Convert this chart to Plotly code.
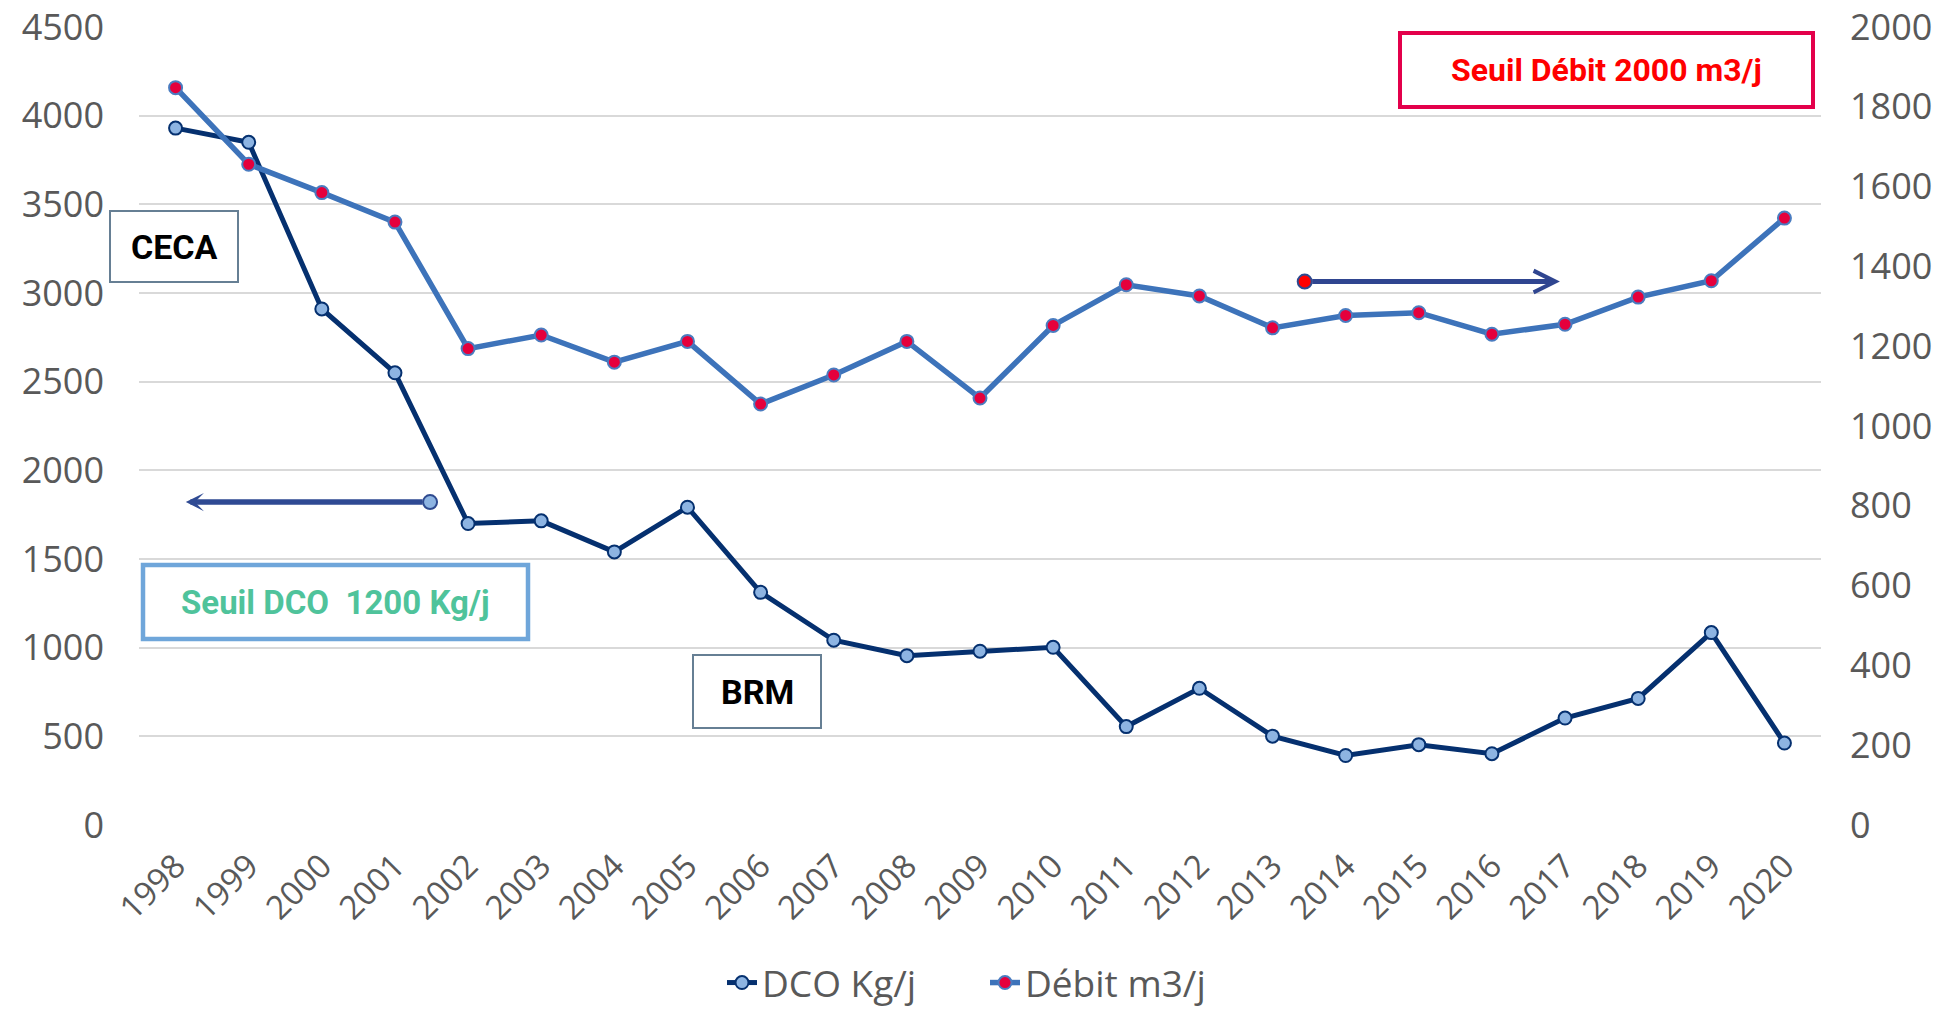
import plotly.graph_objects as go

years = [str(y) for y in range(1998, 2021)]
dco = [3930, 3850, 2910, 2550, 1700, 1715, 1540, 1792, 1312, 1042, 955, 980, 1002,
       555, 771, 501, 392, 453, 402, 603, 714, 1085, 462]
debit = [1848, 1656, 1585, 1511, 1194, 1228, 1160, 1212, 1055, 1128, 1212, 1070, 1252,
         1354, 1326, 1246, 1277, 1284, 1230, 1255, 1323, 1364, 1521]

# arrows (x in category index, y in axis units)
dco_arrow_tail = (3.48, 1821)
dco_arrow_head = (0.14, 1821)
debit_arrow_tail = (15.44, 1362)
debit_arrow_head = (18.93, 1362)

labels = {
    "ceca": "CECA",
    "brm": "BRM",
    "seuil_dco": "Seuil DCO  1200 Kg/j",
    "seuil_debit": "Seuil Débit 2000 m3/j",
}

W, H = 1934, 1010
L, R, T, B = 139, 1821, 27, 825


def px(x):
    return (x - L) / (R - L)


def py(y):
    return (B - y) / (B - T)


x_idx = list(range(len(years)))

fig = go.Figure()
fig.add_trace(go.Scatter(
    x=x_idx, y=dco, name="DCO Kg/j", mode="lines+markers",
    line=dict(color="#05306f", width=5),
    marker=dict(size=13, color="#8db4e2", line=dict(color="#05306f", width=2)),
    yaxis="y"))
fig.add_trace(go.Scatter(
    x=x_idx, y=debit, name="Débit m3/j", mode="lines+markers",
    line=dict(color="#3d73ba", width=5.5),
    marker=dict(size=13, color="#e5003c", line=dict(color="#4a7cc0", width=2)),
    yaxis="y2"))

# arrow tail markers
fig.add_trace(go.Scatter(
    x=[dco_arrow_tail[0]], y=[dco_arrow_tail[1]], mode="markers", showlegend=False,
    marker=dict(size=14, color="#8db4e2", line=dict(color="#2e4a8f", width=2)),
    yaxis="y", hoverinfo="skip"))
fig.add_trace(go.Scatter(
    x=[debit_arrow_tail[0]], y=[debit_arrow_tail[1]], mode="markers", showlegend=False,
    marker=dict(size=14, color="#ff0000", line=dict(color="#2e4a8f", width=2)),
    yaxis="y2", hoverinfo="skip"))

annotations = [
    dict(x=dco_arrow_head[0], y=dco_arrow_head[1], ax=dco_arrow_tail[0], ay=dco_arrow_tail[1],
         xref="x", yref="y", axref="x", ayref="y", text="", showarrow=True,
         arrowhead=3, arrowsize=0.55, arrowwidth=5.5, arrowcolor="#2f4a93", standoff=0,
         startstandoff=6),
    dict(x=debit_arrow_head[0], y=debit_arrow_head[1], ax=debit_arrow_tail[0], ay=debit_arrow_tail[1],
         xref="x", yref="y2", axref="x", ayref="y2", text="", showarrow=True,
         arrowhead=5, arrowsize=0.85, arrowwidth=5, arrowcolor="#2f4590", standoff=0,
         startstandoff=6),
]

boxes = [
    # (x0, y0, x1, y1, border color, border width, text, text color, font size)
    (110, 211, 238, 282, "#667f94", 2, labels["ceca"], "#000000", 34),
    (693, 655, 821, 728, "#667f94", 2, labels["brm"], "#000000", 34),
    (143, 565, 528, 639, "#6fa6da", 4.5, labels["seuil_dco"], "#4fc39b", 33),
    (1400, 33, 1813, 107, "#e3004b", 4, labels["seuil_debit"], "#ff0000", 32),
]

shapes = []
for x0, y0, x1, y1, bc, bw, txt, tc, fs in boxes:
    shapes.append(dict(type="rect", xref="paper", yref="paper",
                       x0=px(x0), x1=px(x1), y0=py(y1), y1=py(y0),
                       line=dict(color=bc, width=bw), fillcolor="white", layer="above"))
    annotations.append(dict(xref="paper", yref="paper", x=px((x0 + x1) / 2), y=py((y0 + y1) / 2),
                            text="<b>%s</b>" % txt, showarrow=False,
                            font=dict(family="Roboto", size=fs, color=tc),
                            xanchor="center", yanchor="middle"))

tickfont = dict(family="Open Sans", size=36, color="#595959")

fig.update_layout(
    width=W, height=H,
    margin=dict(l=L, r=W - R, t=T, b=H - B),
    paper_bgcolor="white", plot_bgcolor="white",
    showlegend=True,
    legend=dict(orientation="h", xref="container", yref="container",
                x=985 / W, y=(H - 983) / H, xanchor="center", yanchor="middle",
                font=dict(family="Open Sans", size=37, color="#595959"),
                entrywidth=218, itemwidth=30),
    xaxis=dict(range=[-0.5, 22.5], tickvals=x_idx, ticktext=years, tickangle=-45,
               showgrid=False, zeroline=False, showline=False,
               tickfont=dict(family="Open Sans", size=33, color="#595959"),
               ticklabelstandoff=14, automargin=False),
    yaxis=dict(range=[0, 4500], dtick=500, showgrid=True, gridcolor="#d9d9d9", gridwidth=2,
               zeroline=False, showline=False, tickfont=tickfont, ticklabelstandoff=34,
               automargin=False),
    yaxis2=dict(range=[0, 2000], dtick=200, overlaying="y", side="right", showgrid=False,
                zeroline=False, showline=False, tickfont=tickfont, ticklabelstandoff=28,
                automargin=False),
    shapes=shapes,
    annotations=annotations,
)

fig.write_html("out.html", config={"displayModeBar": False},
               post_script="document.body.style.margin='0';")
